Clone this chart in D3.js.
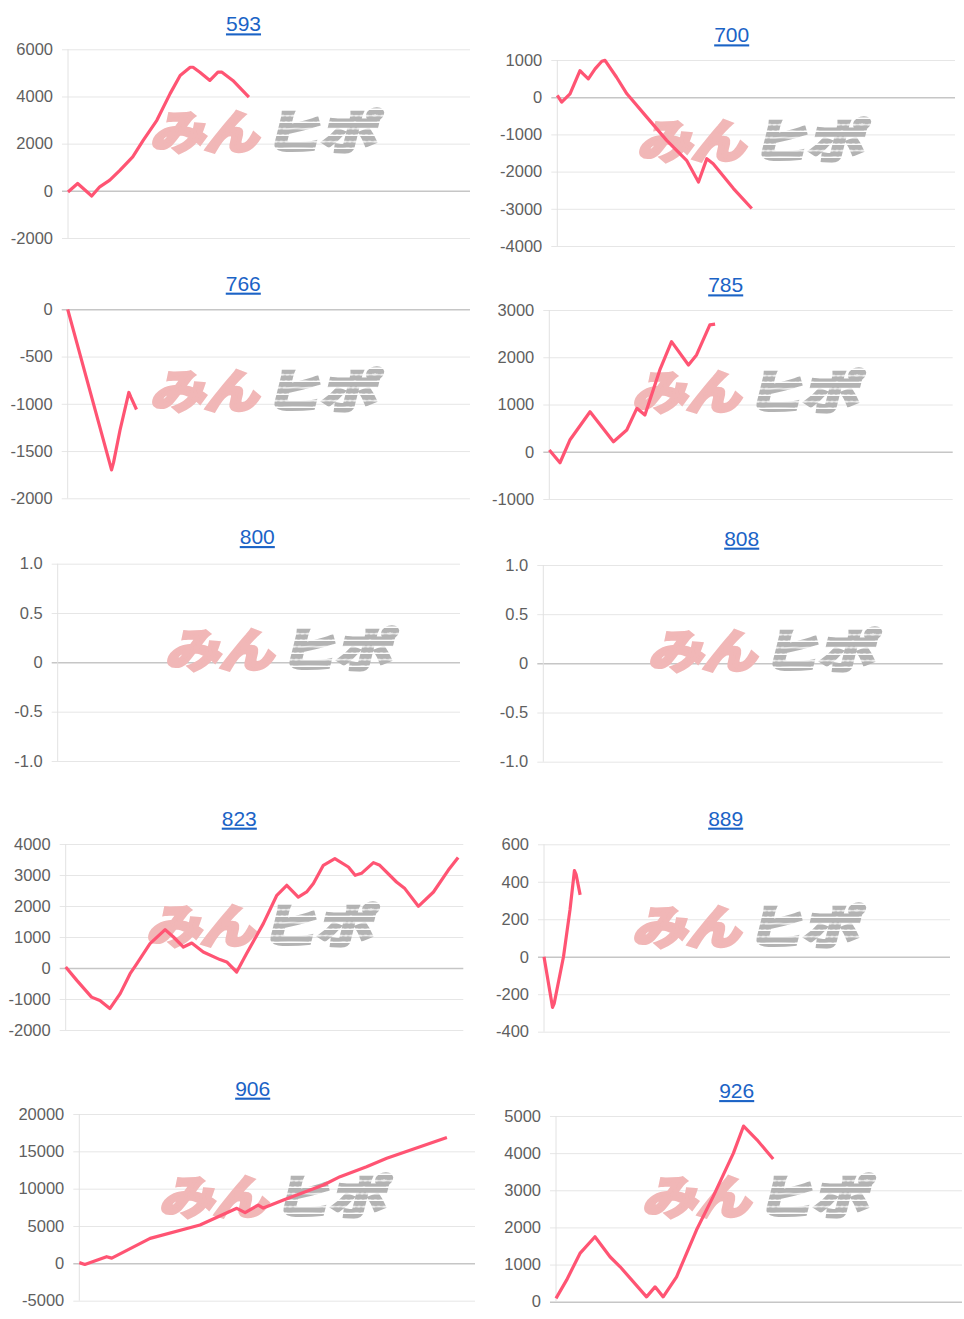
<!DOCTYPE html>
<html>
<head>
<meta charset="utf-8">
<script src="https://cdn.jsdelivr.net/npm/d3@7"></script>
<style>
  body { margin: 0; background: #fff; }
  svg { display: block; }
</style>
</head>
<body>
<div id="chart"></div>
<script>
// machine numbers (panel titles)
var titles = ["593", "700", "766", "785", "800", "808", "823", "889", "906", "926"];

// y tick values per panel
var ticks593 = [-2000, 0, 2000, 4000, 6000],
    ticks700 = [-4000, -3000, -2000, -1000, 0, 1000],
    ticks766 = [-2000, -1500, -1000, -500, 0],
    ticks785 = [-1000, 0, 1000, 2000, 3000],
    ticks800 = [-1.0, -0.5, 0, 0.5, 1.0],
    ticks808 = [-1.0, -0.5, 0, 0.5, 1.0],
    ticks823 = [-2000, -1000, 0, 1000, 2000, 3000, 4000],
    ticks889 = [-400, -200, 0, 200, 400, 600],
    ticks906 = [-5000, 0, 5000, 10000, 15000, 20000],
    ticks926 = [0, 1000, 2000, 3000, 4000, 5000];

// series: [progress along the x axis (0-100), balance]
var s593 = [[0,-50],[2.4,310],[5.9,-220],[7.9,170],[10.4,450],[12.9,870],[16.1,1440],[18.7,2140],[22.1,2990],[25.4,4120],[27.9,4890],[30.4,5240],[31.1,5240],[32.8,5030],[35.3,4680],[37.3,5030],[38.3,5030],[41.0,4680],[45.0,3970]];
var s700 = [[0,50],[1.1,-130],[3.2,90],[5.7,715],[6.5,627],[7.8,493],[9.5,761],[11.2,965],[12.0,990],[14.9,536],[17.5,91],[22.5,-536],[27.5,-1161],[32.5,-1697],[35.5,-2279],[37.6,-1652],[39.2,-1786],[44.3,-2456],[48.9,-2992]];
var s766 = [[0,0],[10.9,-1700],[11.4,-1620],[13.0,-1280],[15.2,-880],[15.7,-930],[17.1,-1060]];
var s785 = [[0,36],[2.65,-233],[5.1,248],[10.1,847],[15.9,212],[19.2,460],[21.7,919],[23.7,777],[27.4,1731],[30.3,2331],[34.5,1837],[36.5,2049],[39.8,2684],[41.1,2700]];
var s800 = [];
var s808 = [];
var s823 = [[0,30],[2.8,-400],[6.5,-940],[8.6,-1050],[11.1,-1310],[13.7,-826],[16.2,-183],[17.9,140],[21.2,787],[25.0,1239],[27.1,1000],[29.6,677],[31.7,806],[34.6,516],[38.8,271],[40.5,194],[43.0,-129],[45.5,465],[49.7,1432],[53.1,2345],[55.6,2668],[58.5,2290],[60.6,2452],[62.3,2723],[64.8,3313],[67.7,3529],[71.1,3258],[72.8,2990],[74.4,3054],[77.4,3400],[79.0,3313],[83.2,2774],[85.3,2561],[88.7,1990],[92.5,2452],[96.2,3151],[98.7,3561]];
var s889 = [[0,0],[2.1,-270],[2.5,-250],[4.8,0],[6.4,250],[7.5,460],[7.9,440],[8.9,330]];
var s906 = [[0,100],[1.4,-150],[6.9,890],[8.2,700],[17.9,3350],[30.5,5130],[39.8,7370],[41.9,6800],[45.2,7810],[46.5,7400],[51.6,8480],[61.7,10500],[65.9,11610],[72.6,12950],[77.7,14070],[92.9,16840]];
var s926 = [[0,90],[2.6,580],[5.9,1300],[9.6,1750],[13.3,1210],[15.8,940],[22.3,130],[24.4,400],[26.4,130],[29.7,670],[34.6,1930],[38.7,2830],[43.7,4000],[46.2,4730],[49.5,4360],[53.5,3840]];

var ticks = [ticks593, ticks700, ticks766, ticks785, ticks800, ticks808, ticks823, ticks889, ticks906, ticks926],
    series = [s593, s700, s766, s785, s800, s808, s823, s889, s906, s926];

// panel boxes: plot left/right/top/bottom, title position, watermark centre
var boxes = [
  {l: 68,    r: 470,   t: 49.3,  b: 238,    tx: 243.5, ty: 24,    wx: 268, wy: 131},
  {l: 557.3, r: 955,   t: 60,    b: 246,    tx: 731.7, ty: 35,    wx: 755, wy: 140},
  {l: 67.7,  r: 470,   t: 309.3, b: 498.3,  tx: 243.3, ty: 283.3, wx: 268, wy: 390},
  {l: 549.3, r: 952.7, t: 310,   b: 499,    tx: 725.7, ty: 285,   wx: 750, wy: 391},
  {l: 57.7,  r: 460,   t: 563.7, b: 761,    tx: 257.3, ty: 536.7, wx: 283, wy: 649},
  {l: 543.3, r: 942.7, t: 565,   b: 761.7,  tx: 741.7, ty: 538.3, wx: 766, wy: 650},
  {l: 65.7,  r: 463.3, t: 844,   b: 1030,   tx: 239.3, ty: 818.3, wx: 264, wy: 925},
  {l: 544,   r: 950,   t: 844.3, b: 1031.7, tx: 725.7, ty: 818.3, wx: 750, wy: 926},
  {l: 79.3,  r: 475,   t: 1114,  b: 1300.7, tx: 252.7, ty: 1088.3, wx: 277, wy: 1196},
  {l: 556,   r: 962,   t: 1116,  b: 1301.7, tx: 736.7, ty: 1090.7, wx: 760, wy: 1196}
];

var width = 964, height = 1319;

var svg = d3.select("#chart").append("svg")
    .attr("width", width)
    .attr("height", height);

// stripe fill for the grey half of the logo
var pat = svg.append("defs").append("pattern")
    .attr("id", "stripes")
    .attr("patternUnits", "userSpaceOnUse")
    .attr("width", 10)
    .attr("height", 6.5);
pat.append("rect")
    .attr("width", 10)
    .attr("height", 5)
    .attr("fill", "#b3b3b3");

var line = d3.line();

titles.forEach(function(title, i) {
  var b = boxes[i],
      tv = ticks[i],
      data = series[i];

  var x = d3.scaleLinear().domain([0, 100]).range([b.l, b.r]),
      y = d3.scaleLinear().domain(d3.extent(tv)).range([b.b, b.t]);

  var fmt = tv.some(function(d) { return d % 1 !== 0; })
      ? function(d) { return d === 0 ? "0" : d.toFixed(1); }
      : function(d) { return String(d); };

  var g = svg.append("g");

  // grid + labels
  var ax = g.append("g")
      .attr("transform", "translate(" + b.l + ",0)")
      .call(d3.axisLeft(y)
        .tickValues(tv)
        .tickSize(-(b.r - b.l))
        .tickPadding(15)
        .tickFormat(fmt));
  ax.select(".domain").remove();
  ax.selectAll(".tick line")
      .attr("x1", -6)
      .attr("stroke", function(d) { return d === 0 ? "#c6c6c6" : "#e6e6e6"; })
      .attr("stroke-width", function(d) { return d === 0 ? 1.5 : 1; });
  ax.selectAll(".tick text")
      .attr("fill", "#5f5f5f")
      .style("font-family", "'Liberation Sans', Arial, sans-serif")
      .style("font-size", "16.5px");

  // left axis line
  g.append("line")
      .attr("x1", b.l).attr("x2", b.l)
      .attr("y1", b.t).attr("y2", b.b)
      .attr("stroke", "#e2e2e2");

  // watermark
  var wm = g.append("g")
      .attr("transform", "translate(" + b.wx + "," + (b.wy + 18) + ") skewX(-14)");
  wm.append("text")
      .attr("x", -118)
      .attr("textLength", 108)
      .attr("lengthAdjust", "spacingAndGlyphs")
      .attr("fill", "#f1b7b7")
      .attr("stroke", "#f1b7b7")
      .attr("stroke-width", 4)
      .attr("stroke-linejoin", "miter")
      .style("font-family", "'Noto Sans CJK JP', sans-serif")
      .style("font-weight", 700)
      .style("font-size", "46px")
      .text("みん");
  wm.append("text")
      .attr("x", -4)
      .attr("textLength", 112)
      .attr("lengthAdjust", "spacingAndGlyphs")
      .attr("fill", "url(#stripes)")
      .attr("stroke", "url(#stripes)")
      .attr("stroke-width", 4)
      .style("font-family", "'Noto Sans CJK JP', sans-serif")
      .style("font-weight", 700)
      .style("font-size", "46px")
      .text("ヒポ");

  // balance line
  if (data.length) {
    g.append("path")
        .datum(data)
        .attr("fill", "none")
        .attr("stroke", "#ff5473")
        .attr("stroke-width", 3.2)
        .attr("stroke-linejoin", "round")
        .attr("d", line.x(function(d) { return x(d[0]); }).y(function(d) { return y(d[1]); }));
  }

  // title
  g.append("text")
      .attr("x", b.tx)
      .attr("y", b.ty)
      .attr("dy", "0.35em")
      .attr("text-anchor", "middle")
      .attr("fill", "#1b63c6")
      .style("text-decoration", "underline")
      .style("font-family", "'Liberation Sans', Arial, sans-serif")
      .style("font-size", "21px")
      .text(title);
});
</script>
</body>
</html>
